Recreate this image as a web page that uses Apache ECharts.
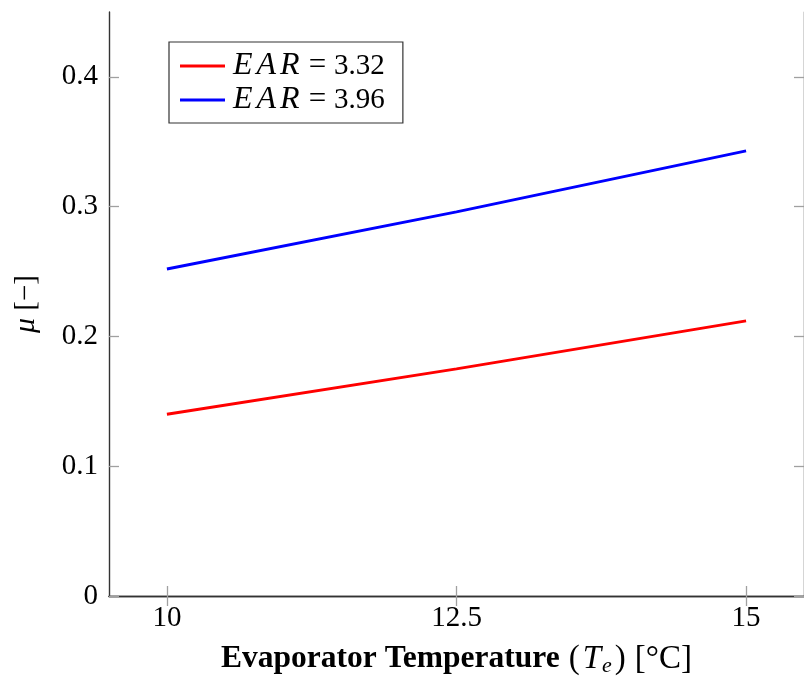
<!DOCTYPE html>
<html>
<head>
<meta charset="utf-8">
<script src="https://cdn.jsdelivr.net/npm/echarts@6/dist/echarts.min.js"></script>
<style>
html,body{margin:0;padding:0;background:#fff;}
#c{width:804px;height:682px;}
</style>
</head>
<body>
<div id="c"></div>
<script>
const xValues = [10, 12.5, 15];
const ear332 = [0.14, 0.175, 0.212];
const ear396 = [0.252, 0.296, 0.343];
const xTicks = [10, 12.5, 15];
const yTicks = [0, 0.1, 0.2, 0.3, 0.4];
const seriesNames = ['EAR = 3.32', 'EAR = 3.96'];

const FONT = '"Liberation Serif", "DejaVu Serif", serif';
const tickStyle = {show: true, inside: true, length: 10, lineStyle: {color: '#a0a0a0', width: 1.3}};
const axisLineStyle = {show: true, lineStyle: {color: '#333', width: 1.4}};

const chart = echarts.init(document.getElementById('c'), null, {renderer: 'canvas'});
chart.setOption({
  backgroundColor: '#fff',
  animation: false,
  textStyle: {fontFamily: FONT},
  grid: {left: 109, top: 12, width: 700, height: 588, containLabel: false},
  legend: {
    left: 169, top: 42,
    orient: 'vertical',
    backgroundColor: '#fff',
    borderColor: '#333', borderWidth: 1.2, borderRadius: 0,
    padding: [7, 18, 6, 11],
    itemGap: 0,
    itemWidth: 45, itemHeight: 3,
    icon: 'rect',
    data: seriesNames,
    formatter: function (name) {
      const parts = name.split(' = ');
      const letters = parts[0].split('').map(ch => '{i|' + ch + '}').join('');
      return '{g|}' + letters + '{eq|=}' + '{n|' + parts[1] + '}';
    },
    textStyle: {
      fontFamily: FONT, fontSize: 30, color: '#000', lineHeight: 34,
      rich: {
        g: {width: 3},
        i: {fontFamily: FONT, fontSize: 32, fontStyle: 'italic', color: '#000', padding: [0, 4, 0, 0], lineHeight: 34},
        eq: {fontFamily: FONT, fontSize: 31, color: '#000', padding: [0, 8, 0, 5], lineHeight: 34},
        n: {fontFamily: FONT, fontSize: 29, color: '#000', lineHeight: 34}
      }
    }
  },
  xAxis: [{
    type: 'value', min: 9.5, max: 15.5, position: 'bottom',
    axisLine: axisLineStyle,
    axisTick: Object.assign({customValues: xTicks}, tickStyle),
    axisLabel: {customValues: xTicks, fontFamily: FONT, fontSize: 29, color: '#000', margin: 8,
      formatter: v => String(v)},
    splitLine: {show: false},
    name: '{b|Evaporator Temperature}{sp|}{p|(}{i|T}{s|e}{p|)}{sp|}{p|[°C]}',
    nameLocation: 'middle', nameGap: 45,
    nameTextStyle: {fontFamily: FONT, fontSize: 30, color: '#000',
      rich: {
        b: {fontFamily: FONT, fontSize: 31.5, fontWeight: 'bold', color: '#000'},
        sp: {width: 9},
        p: {fontFamily: FONT, fontSize: 33, color: '#000'},
        i: {fontFamily: FONT, fontSize: 33, fontStyle: 'italic', color: '#000', padding: [0, 1, 0, 3]},
        s: {fontFamily: FONT, fontSize: 22, fontStyle: 'italic', color: '#000', verticalAlign: 'bottom', padding: [14, 3, 0, 0]}
      }}
  }, {
    type: 'value', min: 9.5, max: 15.5, position: 'top',
    axisLine: axisLineStyle,
    axisTick: Object.assign({customValues: xTicks}, tickStyle),
    axisLabel: {show: false},
    splitLine: {show: false}
  }],
  yAxis: [{
    type: 'value', min: 0, max: 0.45, position: 'left',
    axisLine: axisLineStyle,
    axisTick: Object.assign({customValues: yTicks}, tickStyle),
    axisLabel: {customValues: yTicks, fontFamily: FONT, fontSize: 29, color: '#000', margin: 11,
      formatter: v => (v === 0 ? '0' : String(Math.round(v * 10) / 10))},
    splitLine: {show: false},
    name: '{i|μ} {p|[−]}',
    nameLocation: 'middle', nameGap: 68, nameRotate: 90,
    nameTextStyle: {fontFamily: FONT, fontSize: 29, color: '#000',
      rich: {
        i: {fontFamily: FONT, fontSize: 30, fontStyle: 'italic', color: '#000'},
        p: {fontFamily: FONT, fontSize: 29, color: '#000'}
      }}
  }, {
    type: 'value', min: 0, max: 0.45, position: 'right',
    axisLine: axisLineStyle,
    axisTick: Object.assign({customValues: yTicks}, tickStyle),
    axisLabel: {show: false},
    splitLine: {show: false}
  }],
  series: [{
    name: seriesNames[0], type: 'line', xAxisIndex: 0, yAxisIndex: 0,
    data: xValues.map((x, i) => [x, ear332[i]]),
    showSymbol: false, symbol: 'none',
    lineStyle: {color: '#ff0000', width: 3}, itemStyle: {color: '#ff0000'}
  }, {
    name: seriesNames[1], type: 'line', xAxisIndex: 0, yAxisIndex: 0,
    data: xValues.map((x, i) => [x, ear396[i]]),
    showSymbol: false, symbol: 'none',
    lineStyle: {color: '#0000ff', width: 3}, itemStyle: {color: '#0000ff'}
  }]
});
</script>
</body>
</html>
